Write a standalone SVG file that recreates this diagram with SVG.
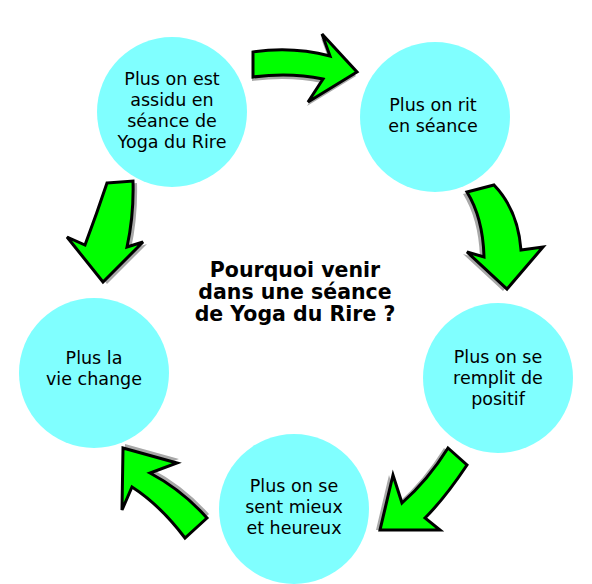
<svg xmlns="http://www.w3.org/2000/svg" width="592" height="584" viewBox="0 0 592 584">
<style>
.c{fill:#80ffff}
.t{font-family:"DejaVu Sans","Liberation Sans",sans-serif;font-size:17.5px;fill:#000;text-anchor:middle}
.h{font-family:"DejaVu Sans","Liberation Sans",sans-serif;font-size:20.5px;font-weight:bold;fill:#000;text-anchor:middle}
.a{fill:#00ff00;stroke:#000;stroke-width:3;stroke-linejoin:miter}
.s{fill:#a8a8a8}
</style>
<rect width="592" height="584" fill="#fff"/>
<g id="n1"><circle class="c" cx="172" cy="112" r="75"/>
<text class="t" x="172" y="85">Plus on est</text><text class="t" x="172" y="106">assidu en</text><text class="t" x="172" y="127">séance de</text><text class="t" x="172" y="148">Yoga du Rire</text></g>
<g id="n2"><circle class="c" cx="435" cy="117" r="75"/>
<text class="t" x="433" y="111">Plus on rit</text><text class="t" x="433" y="132">en séance</text></g>
<g id="n3"><circle class="c" cx="498" cy="378" r="75"/>
<text class="t" x="498" y="363">Plus on se</text><text class="t" x="498" y="384">remplit de</text><text class="t" x="498" y="405">positif</text></g>
<g id="n4"><circle class="c" cx="294" cy="509" r="75"/>
<text class="t" x="294" y="492">Plus on se</text><text class="t" x="294" y="513">sent mieux</text><text class="t" x="294" y="534">et heureux</text></g>
<g id="n5"><circle class="c" cx="94" cy="373" r="75"/>
<text class="t" x="94" y="364">Plus la</text><text class="t" x="94" y="385">vie change</text></g>
<g id="title"><text class="h" x="295" y="277">Pourquoi venir</text><text class="h" x="295" y="299">dans une séance</text><text class="h" x="295" y="321">de Yoga du Rire ?</text></g>
<g id="connectors">
<path class="s" transform="translate(-1,4)" d="M 253 52 Q 292 46 330 56 L 322 34 L 357 72 L 308 102 L 323 79 Q 290 72 253 77 Z"/>
<path class="a" d="M 253 52 Q 292 46 330 56 L 322 34 L 357 72 L 308 102 L 323 79 Q 290 72 253 77 Z"/>
<path class="s" transform="translate(-4,2)" d="M 467 192 L 494 185 Q 518 210 521 250 L 543 247 L 507 289 L 467 252 L 484 257 Q 483 218 467 192 Z"/>
<path class="a" d="M 467 192 L 494 185 Q 518 210 521 250 L 543 247 L 507 289 L 467 252 L 484 257 Q 483 218 467 192 Z"/>
<path class="s" transform="translate(-4,0)" d="M 448 448 L 467 465 Q 445 498 425 518 L 440 530 L 380 530 L 393 475 L 402 503 Q 428 480 448 448 Z"/>
<path class="a" d="M 448 448 L 467 465 Q 445 498 425 518 L 440 530 L 380 530 L 393 475 L 402 503 Q 428 480 448 448 Z"/>
<path class="s" transform="translate(2,-4)" d="M 123 448 L 177 463 L 150 473 Q 182 490 207 518 L 185 538 Q 160 505 132 487 L 122 510 Z"/>
<path class="a" d="M 123 448 L 177 463 L 150 473 Q 182 490 207 518 L 185 538 Q 160 505 132 487 L 122 510 Z"/>
<path class="s" transform="translate(4,2)" d="M 107 183 L 133 181 Q 134 215 127 247 L 143 242 L 103 282 L 67 237 L 85 245 Q 97 213 107 183 Z"/>
<path class="a" d="M 107 183 L 133 181 Q 134 215 127 247 L 143 242 L 103 282 L 67 237 L 85 245 Q 97 213 107 183 Z"/>
</g>
</svg>
